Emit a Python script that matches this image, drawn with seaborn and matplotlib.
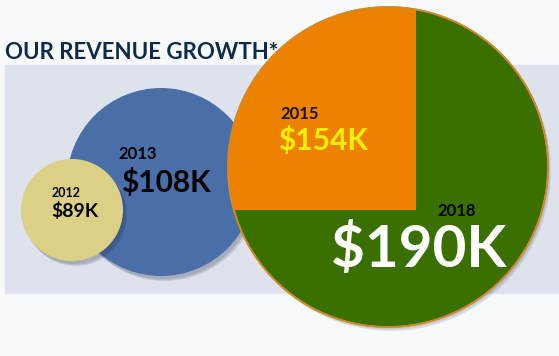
import seaborn as sns
import matplotlib.pyplot as plt
from matplotlib.patches import Circle, Rectangle

# Revenue by year
years = ["2012", "2013", "2015", "2018"]
revenue = [89, 108, 154, 190]  # $K

# layout (pixel coordinates, y down)
centers_x = [72, 161, None, 388]
centers_y = [210, 182, None, 167]
radii = [51, 94, None, 160]
colors = ["#dccf86", "#4a6ea8", "#ec8200", "#3a7000"]

sns.set_theme(style="white")
plt.rcParams["font.family"] = ["Lato", "DejaVu Sans"]

fig = plt.figure(figsize=(5.59, 3.56), dpi=100, facecolor="#f8f9fb")
ax = fig.add_axes([0, 0, 1, 1])
ax.set_xlim(0, 559)
ax.set_ylim(356, 0)
ax.axis("off")

# background band
ax.add_patch(Rectangle((5, 65), 554, 228, color="#dde2ec", zorder=0))

# title
ax.text(5, 59, "OUR REVENUE GROWTH*", fontsize=16, fontweight="bold",
        color="#0c2a4c", ha="left", va="baseline", zorder=10)

# small circles with soft shadows
for i in [1, 0]:
    cx, cy, r = centers_x[i], centers_y[i], radii[i]
    for k, a in enumerate([0.10, 0.10, 0.12]):
        ax.add_patch(Circle((cx + 2 + k, cy + 3 + k), r, color="#1e2a40",
                            alpha=a, lw=0, zorder=1 + (1 - i) * 2))
    ax.add_patch(Circle((cx, cy), r, color=colors[i], lw=0, zorder=2 + (1 - i) * 2))

# big circle (2018) with the 2015 quadrant
cx, cy, r = centers_x[3], centers_y[3], radii[3]
for k, a in enumerate([0.08, 0.08, 0.10]):
    ax.add_patch(Circle((cx + 1 + k, cy + 2 + k), r, color="#1e2a40",
                        alpha=a, lw=0, zorder=5))
big = Circle((cx, cy), r, facecolor=colors[3], edgecolor="#d08a2a", lw=1.2, zorder=6)
ax.add_patch(big)
quad = Rectangle((cx - r - 5, cy - r - 5), 416 - (cx - r - 5), 210 - (cy - r - 5),
                 facecolor=colors[2], lw=0, zorder=7)
ax.add_patch(quad)
quad.set_clip_path(Circle((cx, cy), r, transform=ax.transData))
ax.add_patch(Circle((cx, cy), r, facecolor="none", edgecolor="#d08a2a", lw=1.2, zorder=8))

# labels
ax.text(52, 197, years[0], fontsize=9, fontweight="bold", color="black", zorder=10)
ax.text(51, 217, f"${revenue[0]}K", fontsize=14, fontweight="bold", color="black", zorder=10)
ax.text(118, 159, years[1], fontsize=12, fontweight="bold", color="black", zorder=10)
ax.text(121, 192, f"${revenue[1]}K", fontsize=21.5, fontweight="bold", color="black", zorder=10)
ax.text(280, 119, years[2], fontsize=12, fontweight="bold", color="#1a1000", zorder=10)
ax.text(278, 150, f"${revenue[2]}K", fontsize=21.5, fontweight="bold", color="#f7f000", zorder=10)
ax.text(437, 216, years[3], fontsize=12, fontweight="bold", color="black", zorder=10)
ax.text(331, 267, f"${revenue[3]}K", fontsize=42, fontweight="bold", color="white", zorder=10)

plt.savefig("out.png", dpi=100, facecolor=fig.get_facecolor())
